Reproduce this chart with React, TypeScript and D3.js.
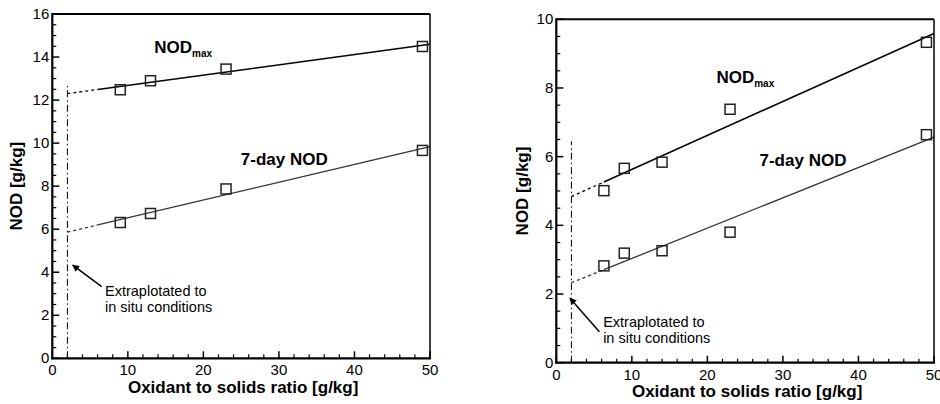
import React from "react";
import * as d3 from "d3";

// ---------- DATA ----------
const leftX = [9, 13, 23, 49];
const leftNodMax = [12.48, 12.9, 13.44, 14.49];
const leftNod7 = [6.31, 6.73, 7.87, 9.66];

const rightX = [6.3, 9, 14, 23, 49];
const rightNodMax = [5.01, 5.66, 5.84, 7.38, 9.33];
const rightNod7 = [2.82, 3.19, 3.26, 3.8, 6.64];

const xDomain = [0, 50];
const leftYDomain = [0, 16];
const rightYDomain = [0, 10];
const xTicks = [0, 10, 20, 30, 40, 50];
const leftYTicks = [0, 2, 4, 6, 8, 10, 12, 14, 16];
const rightYTicks = [0, 2, 4, 6, 8, 10];

const inSituX = 2; // extrapolated in situ ratio
const xTitle = "Oxidant to solids ratio [g/kg]";
const yTitle = "NOD [g/kg]";
const noteLines = ["Extraplotated to", "in situ conditions"];

// ---------- HELPERS ----------
function linFit(xs: number[], ys: number[]) {
  const mx = d3.mean(xs) as number;
  const my = d3.mean(ys) as number;
  let sxy = 0, sxx = 0;
  xs.forEach((x, i) => {
    sxy += (x - mx) * (ys[i] - my);
    sxx += (x - mx) * (x - mx);
  });
  const b = sxy / sxx;
  const a = my - b * mx;
  return (x: number) => a + b * x;
}

const FONT = "'Liberation Sans', Arial, Helvetica, sans-serif";

type PanelProps = {
  left: number; right: number; top: number; bottom: number;
  xs: number[]; maxVals: number[]; d7Vals: number[];
  yDomain: number[]; yTicks: number[]; yMinorStep: number;
  solidStart: number; vTop: number;
  maxLabel: [number, number]; d7Label: [number, number];
  arrowTip: [number, number]; arrowTail: [number, number];
  noteAt: [number, number];
  yTitleX: number; xTitleY: number; id: string;
};

function Panel(p: PanelProps) {
  const x = d3.scaleLinear().domain(xDomain).range([p.left, p.right]);
  const y = d3.scaleLinear().domain(p.yDomain).range([p.bottom, p.top]);
  const fMax = linFit(p.xs, p.maxVals);
  const f7 = linFit(p.xs, p.d7Vals);
  const line = d3.line<number[]>().x(d => x(d[0])).y(d => y(d[1]));

  const xMinor = d3.range(xDomain[0], xDomain[1] + 0.001, 2).filter(v => v % 10 !== 0);
  const yMinor = d3.range(p.yDomain[0], p.yDomain[1] + 0.001, p.yMinorStep)
    .filter(v => !p.yTicks.some(t => Math.abs(t - v) < 1e-6));

  const sq = 10;
  const fits = [
    { f: fMax, color: "#000", w: 1.6 },
    { f: f7, color: "#333", w: 1.3 },
  ];
  const series = [p.maxVals, p.d7Vals];

  return (
    <g>
      {/* dash-dot in situ line */}
      <path d={line([[inSituX, 0], [inSituX, p.vTop]]) as string} stroke="#000" strokeWidth={1}
        strokeDasharray="7,3,1.5,3" fill="none" />
      {/* fits */}
      {fits.map((s, i) => (
        <g key={i}>
          <path d={line([[inSituX, s.f(inSituX)], [p.solidStart, s.f(p.solidStart)]]) as string}
            stroke={s.color} strokeWidth={1.3} strokeDasharray="3,3" fill="none" />
          <path d={line([[p.solidStart, s.f(p.solidStart)], [xDomain[1], s.f(xDomain[1])]]) as string}
            stroke={s.color} strokeWidth={s.w} fill="none" />
        </g>
      ))}
      {/* markers */}
      {series.map((vals, si) => vals.map((v, i) => (
        <rect key={si + "-" + i} x={x(p.xs[i]) - sq / 2} y={y(v) - sq / 2} width={sq} height={sq}
          fill="none" stroke="#222" strokeWidth={1.5} />
      )))}
      {/* frame */}
      <line x1={p.left} x2={p.right} y1={p.top} y2={p.top} stroke="#000" strokeWidth={2} />
      <line x1={p.right} x2={p.right} y1={p.top} y2={p.bottom} stroke="#000" strokeWidth={1.5} />
      <line x1={p.left} x2={p.left} y1={p.top - 1} y2={p.bottom + 1} stroke="#000" strokeWidth={2.2} />
      <line x1={p.left - 1} x2={p.right + 1} y1={p.bottom} y2={p.bottom} stroke="#000" strokeWidth={2.2} />
      {/* ticks */}
      {xTicks.map(t => (
        <g key={"xt" + t}>
          <line x1={x(t)} x2={x(t)} y1={p.bottom} y2={p.bottom - 7} stroke="#000" strokeWidth={1.5} />
          <text x={x(t)} y={p.bottom + 17} textAnchor="middle" fontSize={15} fontFamily={FONT}>{t}</text>
        </g>
      ))}
      {xMinor.map(t => (
        <line key={"xm" + t} x1={x(t)} x2={x(t)} y1={p.bottom} y2={p.bottom - 4} stroke="#000" strokeWidth={1.2} />
      ))}
      {p.yTicks.map(t => (
        <g key={"yt" + t}>
          <line x1={p.left} x2={p.left + 7} y1={y(t)} y2={y(t)} stroke="#000" strokeWidth={1.5} />
          <text x={p.left - 3} y={y(t) + 5} textAnchor="end" fontSize={15} fontFamily={FONT}>{t}</text>
        </g>
      ))}
      {yMinor.map(t => (
        <line key={"ym" + t} x1={p.left} x2={p.left + 4} y1={y(t)} y2={y(t)} stroke="#000" strokeWidth={1.2} />
      ))}
      {/* titles */}
      <text x={(x(0) + x(50)) / 2 + 2} y={p.xTitleY} textAnchor="middle" fontSize={17} fontWeight="bold"
        fontFamily={FONT}>{xTitle}</text>
      <text transform={`translate(${p.yTitleX},${(p.top + p.bottom) / 2}) rotate(-90)`} textAnchor="middle"
        fontSize={17} fontWeight="bold" fontFamily={FONT}>{yTitle}</text>
      {/* series labels */}
      <text x={x(p.maxLabel[0])} y={y(p.maxLabel[1])} fontSize={17} fontWeight="bold" fontFamily={FONT}>
        NOD<tspan fontSize={10} dy={4}>max</tspan>
      </text>
      <text x={x(p.d7Label[0])} y={y(p.d7Label[1])} fontSize={17} fontWeight="bold" fontFamily={FONT}>
        7-day NOD
      </text>
      {/* annotation */}
      <defs>
        <marker id={"arr" + p.id} viewBox="0 0 10 10" refX={9} refY={5} markerWidth={9} markerHeight={7}
          markerUnits="userSpaceOnUse" orient="auto">
          <path d="M0,0 L10,5 L0,10 Z" fill="#000" />
        </marker>
      </defs>
      <line x1={x(p.arrowTail[0])} y1={y(p.arrowTail[1])} x2={x(p.arrowTip[0])} y2={y(p.arrowTip[1])}
        stroke="#000" strokeWidth={1.5} markerEnd={`url(#arr${p.id})`} />
      <text x={x(p.noteAt[0])} y={y(p.noteAt[1])} fontSize={14.5} fontFamily={FONT}>{noteLines[0]}</text>
      <text x={x(p.noteAt[0])} y={y(p.noteAt[1]) + 16} fontSize={14.5} fontFamily={FONT}>{noteLines[1]}</text>
    </g>
  );
}

export default function App() {
  return (
    <svg width={940} height={404} style={{ position: "absolute", left: 0, top: 0, background: "#fff" }}>
      <rect width={940} height={404} fill="#fff" />
      <Panel id="L" left={52.3} right={430} top={14} bottom={358.3}
        xs={leftX} maxVals={leftNodMax} d7Vals={leftNod7}
        yDomain={leftYDomain} yTicks={leftYTicks} yMinorStep={0.5}
        solidStart={6} vTop={12.7}
        maxLabel={[13.5, 14.19]} d7Label={[24.95, 8.99]}
        arrowTip={[2.7, 4.33]} arrowTail={[6.54, 3.33]} noteAt={[6.98, 2.9]}
        yTitleX={22} xTitleY={393} />
      <Panel id="R" left={556.3} right={934} top={19.3} bottom={362.7}
        xs={rightX} maxVals={rightNodMax} d7Vals={rightNod7}
        yDomain={rightYDomain} yTicks={rightYTicks} yMinorStep={0.5}
        solidStart={6.3} vTop={6.45}
        maxLabel={[21.2, 8.14]} d7Label={[26.9, 5.73]}
        arrowTip={[1.81, 1.88]} arrowTail={[5.7, 0.9]} noteAt={[6.2, 1.05]}
        yTitleX={528} xTitleY={397} />
    </svg>
  );
}
